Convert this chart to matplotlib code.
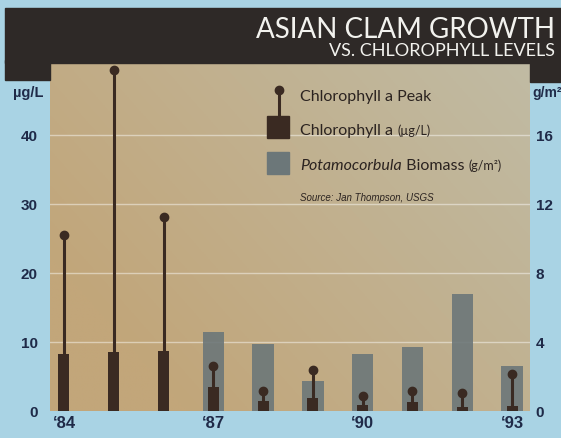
import numpy as np
import matplotlib.pyplot as plt
from matplotlib.patches import Rectangle
from matplotlib.lines import Line2D

years = [1984, 1985, 1986, 1987, 1988, 1989, 1990, 1991, 1992, 1993]
chl_mean = [8.2, 8.5, 8.7, 3.5, 1.4, 1.9, 0.9, 1.3, 0.6, 0.7]      # ug/L
chl_peak = [25.4, 49.4, 28.1, 6.5, 2.9, 6.0, 2.2, 2.9, 2.6, 5.4]   # ug/L
biomass = [0, 0, 0, 4.6, 3.9, 1.75, 3.3, 3.7, 6.8, 2.6]            # g/m2

left_ticks = [0, 10, 20, 30, 40]
right_ticks = [0, 4, 8, 12, 16]
year_ticks = [1984, 1987, 1990, 1993]
year_labels = ["\u201884", "\u201887", "\u201890", "\u201893"]

sky = "#a9d3e4"
band = "#2e2927"
brown = "#3a2a22"
slate = "#6c7779"
navy = "#1f2a48"
ink = "#2b2320"
narrow = ["Liberation Sans Narrow", "Liberation Sans", "DejaVu Sans"]

fig = plt.figure(figsize=(5.61, 4.39), dpi=100)
fig.patch.set_facecolor(sky)


def fx(px):
    return px / 561


def fy(py):
    return 1 - py / 439


# dark title band with tabs on each side
fig.patches.append(Rectangle((fx(5), fy(64)), 556 / 561, 55 / 439,
                             transform=fig.transFigure, color=band, zorder=0))
fig.patches.append(Rectangle((fx(5), fy(81)), 45 / 561, 20 / 439,
                             transform=fig.transFigure, color=band, zorder=0))
fig.patches.append(Rectangle((fx(530), fy(83)), 31 / 561, 22 / 439,
                             transform=fig.transFigure, color=band, zorder=0))

fig.text(fx(555), fy(30), "ASIAN CLAM GROWTH", color="#f2f2ee",
         fontsize=20, family="Lato", ha="right", va="center")
fig.text(fx(555), fy(51), "VS. CHLOROPHYLL LEVELS", color="#f2f2ee",
         fontsize=13, family="Lato", ha="right", va="center")

ax = fig.add_axes([fx(50), 27 / 439, 480 / 561, 349 / 439])
ax.set_xlim(1983.72, 1993.36)
ax.set_ylim(0, 50.5)

# paper-ish background: tan on the left, greyer toward the upper right
gx, gy = np.meshgrid(np.linspace(0, 1, 200), np.linspace(0, 1, 200))
tan = np.array([194, 166, 122]) / 255
grey = np.array([192, 188, 166]) / 255
w = np.clip(0.7 * gx + 0.45 * gy - 0.2, 0, 1)[..., None]
bg = tan * (1 - w) + grey * w
ax.imshow(bg, extent=[0, 1, 0, 1], transform=ax.transAxes, origin="lower",
          aspect="auto", zorder=0)

for v in left_ticks[1:]:
    ax.axhline(v, color="white", lw=1, alpha=0.45, zorder=1)

ax2 = ax.twinx()
ax2.set_ylim(0, 50.5 * 0.4)
ax2.bar(years, biomass, width=0.43, color=slate, alpha=0.9, zorder=2)

ax3 = ax.twinx()
ax3.set_ylim(ax.get_ylim())
ax3.axis("off")
ax3.vlines(years, 0, chl_peak, color=brown, lw=2.2, zorder=3)
ax3.plot(years, chl_peak, "o", color=brown, ms=6, zorder=4)
ax3.bar(years, chl_mean, width=0.22, color=brown, zorder=5)

for a in (ax, ax2):
    for s in a.spines.values():
        s.set_visible(False)
    a.tick_params(length=0)

ax.set_xticks(year_ticks)
ax.set_xticklabels(year_labels)
ax.set_yticks(left_ticks)
ax2.set_yticks(right_ticks)
ax.tick_params(axis="y", pad=9)
ax.tick_params(axis="x", pad=3)
ax2.tick_params(axis="y", pad=4)
for lab in ax.get_yticklabels() + ax2.get_yticklabels():
    lab.set_family(narrow)
    lab.set_fontweight("bold")
    lab.set_fontsize(11)
    lab.set_color(navy)
for lab in ax.get_xticklabels():
    lab.set_family(narrow)
    lab.set_fontweight("bold")
    lab.set_fontsize(12)
    lab.set_color(navy)

fig.text(fx(13), fy(93), "\u00b5g/L", color=navy, fontsize=10.5,
         family=narrow, weight="bold", va="center")
fig.text(fx(532), fy(93), "g/m\u00b2", color=navy, fontsize=10,
         family=narrow, weight="bold", va="center")

# legend drawn by hand in pixel positions
fig.lines.append(Line2D([fx(279), fx(279)], [fy(91), fy(118)], color=brown,
                        lw=2.2, transform=fig.transFigure, zorder=6))
fig.lines.append(Line2D([fx(279)], [fy(91)], marker="o", ms=6, color=brown,
                        transform=fig.transFigure, zorder=6))
fig.patches.append(Rectangle((fx(267), fy(139)), 22 / 561, 22 / 439, color=brown,
                             transform=fig.transFigure, zorder=6))
fig.patches.append(Rectangle((fx(267), fy(175)), 22 / 561, 22 / 439, color=slate,
                             transform=fig.transFigure, zorder=6))

renderer = fig.canvas.get_renderer()


def text_run(x, y, pieces):
    # pieces: (string, size, style) laid out one after another on a baseline
    for s, size, style in pieces:
        t = fig.text(x, y, s, color=ink, fontsize=size, family="Lato",
                     style=style, va="baseline")
        bb = t.get_window_extent(renderer)
        x += bb.width / fig.bbox.width


text_run(fx(300), fy(101), [("Chlorophyll a Peak", 11.5, "normal")])
text_run(fx(300), fy(135), [("Chlorophyll a ", 11.5, "normal"),
                            ("(\u00b5g/L)", 9, "normal")])
text_run(fx(300), fy(170), [("Potamocorbula", 11.5, "italic"),
                            (" Biomass ", 11.5, "normal"),
                            ("(g/m\u00b2)", 9, "normal")])
fig.text(fx(300), fy(198), "Source: Jan Thompson, USGS", color=ink, fontsize=7,
         family=narrow, style="italic", va="center")

fig.savefig("out.png", dpi=100, facecolor=fig.get_facecolor())
